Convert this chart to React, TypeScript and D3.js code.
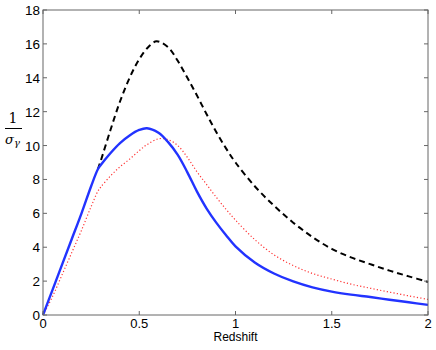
import React from "react";
import * as d3 from "d3";

const xs = [0, 0.05, 0.1, 0.15, 0.2, 0.25, 0.285, 0.3, 0.35, 0.4, 0.45, 0.5, 0.54, 0.6, 0.65, 0.7, 0.75, 0.8, 0.85, 0.9, 0.95, 1.0, 1.1, 1.2, 1.3, 1.4, 1.5, 1.6, 1.7, 1.8, 1.9, 2.0];
const blue = [0, 1.5, 3.0, 4.5, 6.0, 7.6, 8.6, 8.85, 9.55, 10.15, 10.6, 10.92, 11.02, 10.75, 10.2, 9.45, 8.42, 7.28, 6.28, 5.45, 4.72, 4.05, 3.1, 2.45, 1.98, 1.63, 1.38, 1.2, 1.06, 0.9, 0.75, 0.6];
const red = [0, 1.1, 2.4, 3.7, 5.0, 6.4, 7.3, 7.55, 8.2, 8.75, 9.2, 9.7, 10.05, 10.4, 10.35, 10.0, 9.3, 8.45, 7.7, 6.95, 6.25, 5.6, 4.45, 3.55, 2.92, 2.45, 2.12, 1.82, 1.58, 1.35, 1.13, 0.92];
const blackX = [0.285, 0.3, 0.35, 0.4, 0.45, 0.5, 0.55, 0.59, 0.65, 0.7, 0.75, 0.8, 0.85, 0.9, 0.95, 1.0, 1.1, 1.2, 1.3, 1.4, 1.5, 1.6, 1.7, 1.8, 1.9, 2.0];
const black = [8.6, 9.1, 10.9, 12.6, 14.0, 15.1, 15.85, 16.15, 15.8, 15.0, 14.0, 12.95, 11.85, 10.8, 9.85, 9.0, 7.6, 6.45, 5.45, 4.6, 3.9, 3.4, 3.0, 2.62, 2.28, 1.95];
const xTicks = [0, 0.5, 1, 1.5, 2];
const xTickLabels = ["0", "0.5", "1", "1.5", "2"];
const yTicks = [0, 2, 4, 6, 8, 10, 12, 14, 16, 18];
const xLabel = "Redshift";

export default function App() {
  const W = 436, H = 350;
  const L = 43, R = 428, T = 10, B = 315;
  const x = d3.scaleLinear().domain([0, 2]).range([L, R]);
  const y = d3.scaleLinear().domain([0, 18]).range([B, T]);
  const line = d3.line<[number, number]>().x(d => x(d[0])).y(d => y(d[1])).curve(d3.curveCatmullRom.alpha(0.5));
  const bluePts = xs.map((v, i) => [v, blue[i]] as [number, number]);
  const redPts = xs.map((v, i) => [v, red[i]] as [number, number]);
  const blackPts = blackX.map((v, i) => [v, black[i]] as [number, number]);
  const font = "'Liberation Sans', Arial, sans-serif";
  const axisColor = "#666";
  return (
    <svg width={W} height={H} style={{ position: "absolute", left: 0, top: 0, background: "#fff" }}>
      <rect x={0} y={0} width={W} height={H} fill="#fff" />
      <path d={line(redPts) || ""} fill="none" stroke="#ff3333" strokeWidth={1.2} strokeDasharray="1.2 2.2" />
      <path d={line(blackPts) || ""} fill="none" stroke="#000" strokeWidth={2} strokeDasharray="6 4" />
      <path d={line(bluePts) || ""} fill="none" stroke="#2233ff" strokeWidth={2.4} />
      <rect x={L} y={T} width={R - L} height={B - T} fill="none" stroke={axisColor} strokeWidth={1} />
      {xTicks.map((t, i) => (
        <g key={"x" + i}>
          <line x1={x(t)} x2={x(t)} y1={B} y2={B - 4} stroke={axisColor} />
          <line x1={x(t)} x2={x(t)} y1={T} y2={T + 4} stroke={axisColor} />
          <text x={x(t)} y={B + 13} textAnchor="middle" fontFamily={font} fontSize={13} fill="#000">{xTickLabels[i]}</text>
        </g>
      ))}
      {yTicks.map((t, i) => (
        <g key={"y" + i}>
          <line x1={L} x2={L + 4} y1={y(t)} y2={y(t)} stroke={axisColor} />
          <line x1={R} x2={R - 4} y1={y(t)} y2={y(t)} stroke={axisColor} />
          <text x={L - 3} y={y(t) + 5} textAnchor="end" fontFamily={font} fontSize={13.5} fill="#000">{String(t)}</text>
        </g>
      ))}
      <text x={(L + R) / 2} y={B + 26} textAnchor="middle" fontFamily={font} fontSize={12} fill="#000">{xLabel}</text>
      <text x={13} y={123} textAnchor="middle" fontFamily="'DejaVu Serif', serif" fontSize={14} fill="#000">1</text>
      <line x1={5} x2={22} y1={128.5} y2={128.5} stroke="#000" strokeWidth={1} />
      <text x={5} y={144} fontFamily="'DejaVu Serif', serif" fontStyle="italic" fontSize={13} fill="#000">σ<tspan fontSize={10} dy={2}>γ</tspan></text>
    </svg>
  );
}
